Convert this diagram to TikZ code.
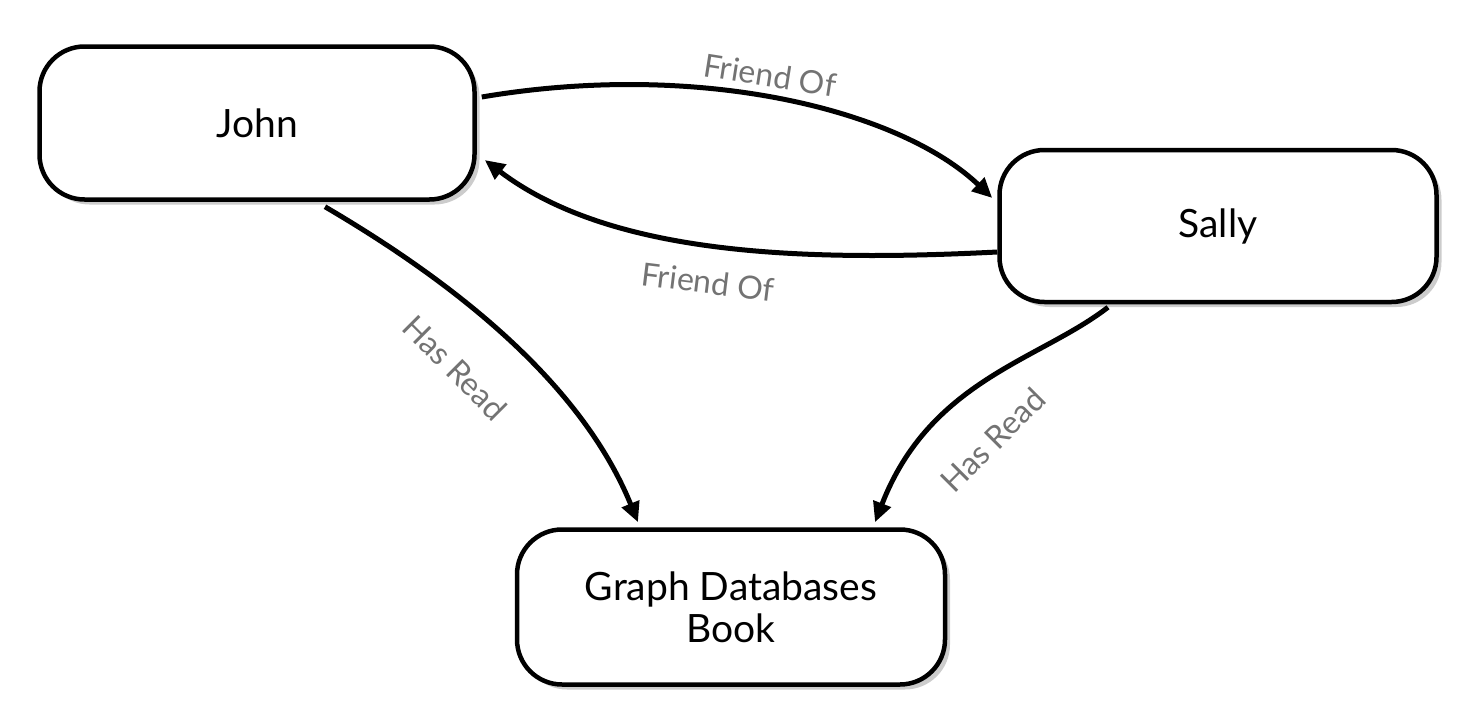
\documentclass[tikz,border=0pt]{standalone}
\usepackage{fontspec}
\setmainfont{Lato}
\usetikzlibrary{arrows.meta,shadows,calc}
\begin{document}
\begin{tikzpicture}[x=1pt,y=-1pt,
  box/.style={draw,line width=4.5pt,rounded corners=45pt,fill=white,
    drop shadow={shadow xshift=5pt,shadow yshift=-5pt,opacity=0.4},
    align=center,font=\fontsize{39}{42}\selectfont},
  edge/.style={line width=5pt,-{Triangle[length=20pt,width=18pt]}},
  lab/.style={text=black!55,font=\fontsize{32}{36}\selectfont}]
\useasboundingbox (0,0) rectangle (1478,728);
\node[box,minimum width=435pt,minimum height=153pt] (john) at (257,123) {John};
\node[box,minimum width=437pt,minimum height=152pt] (sally) at (1218,226) {Sally};
\node[box,minimum width=428pt,minimum height=155pt] (book) at (731,607) {Graph Databases\\Book};
\draw[edge] ($(john.east)+(5,-26)$) .. controls (700,60) and (900,110) .. ($(sally.west)+(-5,-28)$);
\draw[edge] ($(sally.west)+(0,26)$) .. controls (800,262) and (610,255) .. ($(john.east)+(8,37)$);
\draw[edge] ($(john.south)+(68,5)$) .. controls (450,280) and (580,380) .. ($(book.north)+(-93,-5)$);
\draw[edge] ($(sally.south)+(-110,3)$) .. controls (1040,360) and (930,380) .. ($(book.north)+(144,-5)$);
\node[lab,rotate=-9] (l1) at (770,75) {Friend Of};
\node[lab,rotate=-7] (l2) at (708,282) {Friend Of};
\node[lab,rotate=-45] (l3) at (455,368) {Has Read};
\node[lab,rotate=45] (l4) at (993,440) {Has Read};
\end{tikzpicture}
\end{document}
